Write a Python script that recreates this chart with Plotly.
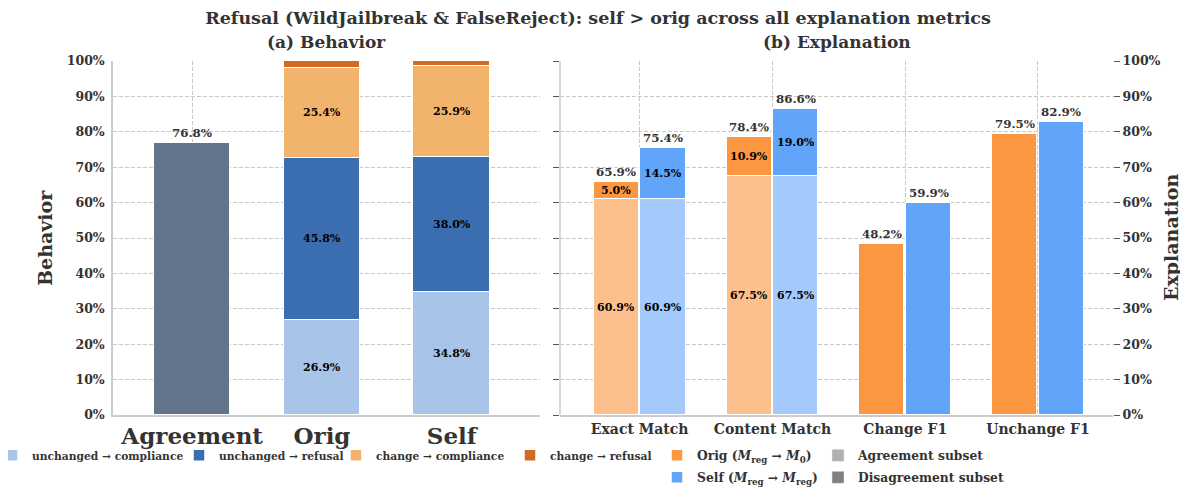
import plotly.graph_objects as go

# ---------------- data ----------------
beh_categories = ["Agreement", "Orig", "Self"]
agreement_rate = [76.8]
unch_compliance = [26.9, 34.8]
unch_refusal = [45.8, 38.0]
chg_compliance = [25.4, 25.9]
chg_refusal = [1.9, 1.3]

expl_categories = ["Exact Match", "Content Match", "Change F1", "Unchange F1"]
orig_agree = [60.9, 67.5, None, None]
orig_rest = [5.0, 10.9, 48.2, 79.5]
orig_total = [65.9, 78.4, 48.2, 79.5]
self_agree = [60.9, 67.5, None, None]
self_rest = [14.5, 19.0, 59.9, 82.9]
self_total = [75.4, 86.6, 59.9, 82.9]

y_ticks = list(range(0, 101, 10))
y_tick_text = [f"{v}%" for v in y_ticks]

# ---------------- style ----------------
FONT = "DejaVu Serif"
TXT = "#333333"
GRID = "#c8c8c8"
GDASH = "4px,2px"
C_AGREE = "#64748b"
C_UC = "#a8c4e8"
C_UR = "#3b6eb0"
C_CC = "#f2b36c"
C_CR = "#d36a24"
C_ORIG = "#fd9640"
C_SELF = "#60a5fa"
C_ORIG_L = "#fdbf8b"
C_SELF_L = "#a3cafb"

BW_L = 0.59
BW_R = 0.34
OFF = 0.176

fig = go.Figure()
line = dict(color="white", width=1.5)

# ---- left panel (behavior) ----
fig.add_trace(go.Bar(x=beh_categories[:1], y=agreement_rate, width=BW_L, marker=dict(color=C_AGREE, line=line),
                     showlegend=False, xaxis="x", yaxis="y"))
left_legends = ["legend", "legend4", "legend5", "legend6"]
for (vals, col, name), lg in zip([(unch_compliance, C_UC, "unchanged → compliance"),
                                  (unch_refusal, C_UR, "unchanged → refusal"),
                                  (chg_compliance, C_CC, "change → compliance"),
                                  (chg_refusal, C_CR, "change → refusal")], left_legends):
    fig.add_trace(go.Bar(x=beh_categories[1:], y=vals, width=BW_L, marker=dict(color=col, line=line),
                         name=name, legend=lg, xaxis="x", yaxis="y"))

# ---- right panel (explanation) ----
xo = [i - OFF for i in range(len(expl_categories))]
xs = [i + OFF for i in range(len(expl_categories))]
fig.add_trace(go.Bar(x=xo, y=orig_agree, width=BW_R, marker=dict(color=C_ORIG_L, line=line),
                     showlegend=False, xaxis="x2", yaxis="y2"))
fig.add_trace(go.Bar(x=xs, y=self_agree, width=BW_R, marker=dict(color=C_SELF_L, line=line),
                     showlegend=False, xaxis="x2", yaxis="y2"))
fig.add_trace(go.Bar(x=xo, y=orig_rest, width=BW_R, marker=dict(color=C_ORIG, line=line),
                     name="Orig (<i>M</i><sub>reg</sub> → <i>M</i><sub>0</sub>)", legend="legend2",
                     legendgroup="o", xaxis="x2", yaxis="y2"))
fig.add_trace(go.Bar(x=xs, y=self_rest, width=BW_R, marker=dict(color=C_SELF, line=line),
                     name="Self (<i>M</i><sub>reg</sub> → <i>M</i><sub>reg</sub>)", legend="legend2",
                     legendgroup="s", xaxis="x2", yaxis="y2"))
fig.add_trace(go.Bar(x=[None], y=[None], marker=dict(color="#b0b0b0"), name="Agreement subset",
                     legend="legend3", legendgroup="a", xaxis="x2", yaxis="y2"))
fig.add_trace(go.Bar(x=[None], y=[None], marker=dict(color="#808080"), name="Disagreement subset",
                     legend="legend3", legendgroup="d", xaxis="x2", yaxis="y2"))

ann = []
lab_font = dict(family=FONT, size=11, color="black", weight="bold")
tot_font = dict(family=FONT, size=11.8, color=TXT, weight="bold")

# left inside labels
for i, cat in enumerate(beh_categories[1:]):
    base = 0
    for vals in (unch_compliance, unch_refusal, chg_compliance):
        ann.append(dict(x=cat, y=base + vals[i] / 2, xref="x", yref="y", text=f"{vals[i]:.1f}%",
                        showarrow=False, font=lab_font))
        base += vals[i]
ann.append(dict(x=beh_categories[0], y=agreement_rate[0], xref="x", yref="y", text=f"{agreement_rate[0]:.1f}%",
                showarrow=False, yanchor="bottom", yshift=1, font=tot_font))

# right labels
for xpos, agree, rest, tot in [(xo, orig_agree, orig_rest, orig_total), (xs, self_agree, self_rest, self_total)]:
    for i in range(len(expl_categories)):
        if agree[i] is not None:
            ann.append(dict(x=xpos[i], y=agree[i] / 2, xref="x2", yref="y2", text=f"{agree[i]:.1f}%",
                            showarrow=False, font=lab_font))
            ann.append(dict(x=xpos[i], y=agree[i] + rest[i] / 2, xref="x2", yref="y2", text=f"{rest[i]:.1f}%",
                            showarrow=False, font=lab_font))
            top = agree[i] + rest[i]
        else:
            top = rest[i]
        ann.append(dict(x=xpos[i], y=top, xref="x2", yref="y2", text=f"{tot[i]:.1f}%",
                        showarrow=False, yanchor="bottom", yshift=1, font=tot_font))

# subtitles & axis titles
sub_font = dict(family=FONT, size=17, color=TXT, weight="bold")
ann.append(dict(x=0.2135, y=1.054, xref="paper", yref="paper", text="(a) Behavior", showarrow=False,
                xanchor="center", yanchor="middle", font=sub_font))
ann.append(dict(x=0.7235, y=1.054, xref="paper", yref="paper", text="(b) Explanation", showarrow=False,
                xanchor="center", yanchor="middle", font=sub_font))
ax_font = dict(family=FONT, size=19, color=TXT, weight="bold")
ann.append(dict(x=-0.068, y=0.5, xref="paper", yref="paper", text="Behavior", textangle=-90, showarrow=False,
                xanchor="center", yanchor="middle", font=ax_font))
ann.append(dict(x=1.058, y=0.5, xref="paper", yref="paper", text="Explanation", textangle=-90, showarrow=False,
                xanchor="center", yanchor="middle", font=ax_font))

tick_font = dict(family=FONT, size=12.5, color=TXT, weight="bold")
leg_font = dict(family=FONT, size=10.7, color=TXT, weight="bold")
leg_font_r = dict(family=FONT, size=12.3, color=TXT, weight="bold")


def leg(x, orient="h", gap=0, font=leg_font, order="normal"):
    return dict(orientation=orient, x=x, y=-0.073, xanchor="left", yanchor="top", font=font,
                bgcolor="rgba(0,0,0,0)", traceorder=order, tracegroupgap=gap)


fig.update_layout(
    width=1180, height=479,
    margin=dict(l=105, r=75, t=53, b=72, autoexpand=False),
    paper_bgcolor="white", plot_bgcolor="white",
    barmode="stack", bargap=0,
    title=dict(text="Refusal (WildJailbreak & FalseReject): self > orig across all explanation metrics",
               x=0.5, xanchor="center", y=0.979, yanchor="middle",
               font=dict(family=FONT, size=17.5, color=TXT, weight="bold")),
    xaxis=dict(domain=[0, 0.427], range=[-0.61, 2.68], showgrid=True, gridcolor=GRID, griddash=GDASH,
               showline=True, linecolor="#cccccc", linewidth=1.5, ticks="",
               tickfont=dict(family=FONT, size=23, color=TXT, weight="bold")),
    yaxis=dict(domain=[0, 1], range=[0, 100], tickvals=y_ticks, ticktext=y_tick_text, showgrid=True,
               gridcolor=GRID, griddash=GDASH, showline=True, linecolor="#cccccc", linewidth=1.5,
               zeroline=False, tickfont=tick_font, ticklabelstandoff=4),
    xaxis2=dict(domain=[0.447, 1], anchor="y2", range=[-0.6, 3.565], tickvals=list(range(len(expl_categories))),
                ticktext=expl_categories, showgrid=True, gridcolor=GRID, griddash=GDASH,
                showline=True, linecolor="#cccccc", linewidth=1.5, ticks="",
                tickfont=dict(family=FONT, size=14, color=TXT, weight="bold")),
    yaxis2=dict(anchor="x2", side="right", range=[0, 100], tickvals=y_ticks, ticktext=y_tick_text, showgrid=True,
                gridcolor=GRID, griddash=GDASH, zeroline=False, ticks="outside", ticklen=6, tickcolor="#555555",
                mirror="ticks", showline=False, tickfont=tick_font),
    legend=leg(-0.121),
    legend4=leg(0.066),
    legend5=leg(0.223),
    legend6=leg(0.397),
    legend2=leg(0.544, "v", 3, leg_font_r, "grouped"),
    legend3=leg(0.705, "v", 3, leg_font_r, "grouped"),
    annotations=ann,
    shapes=[dict(type="line", xref="x2 domain", yref="y2 domain", x0=0, x1=0, y0=0, y1=1,
                 line=dict(color="#cccccc", width=1.5))],
)

fig.write_html("out.html")
